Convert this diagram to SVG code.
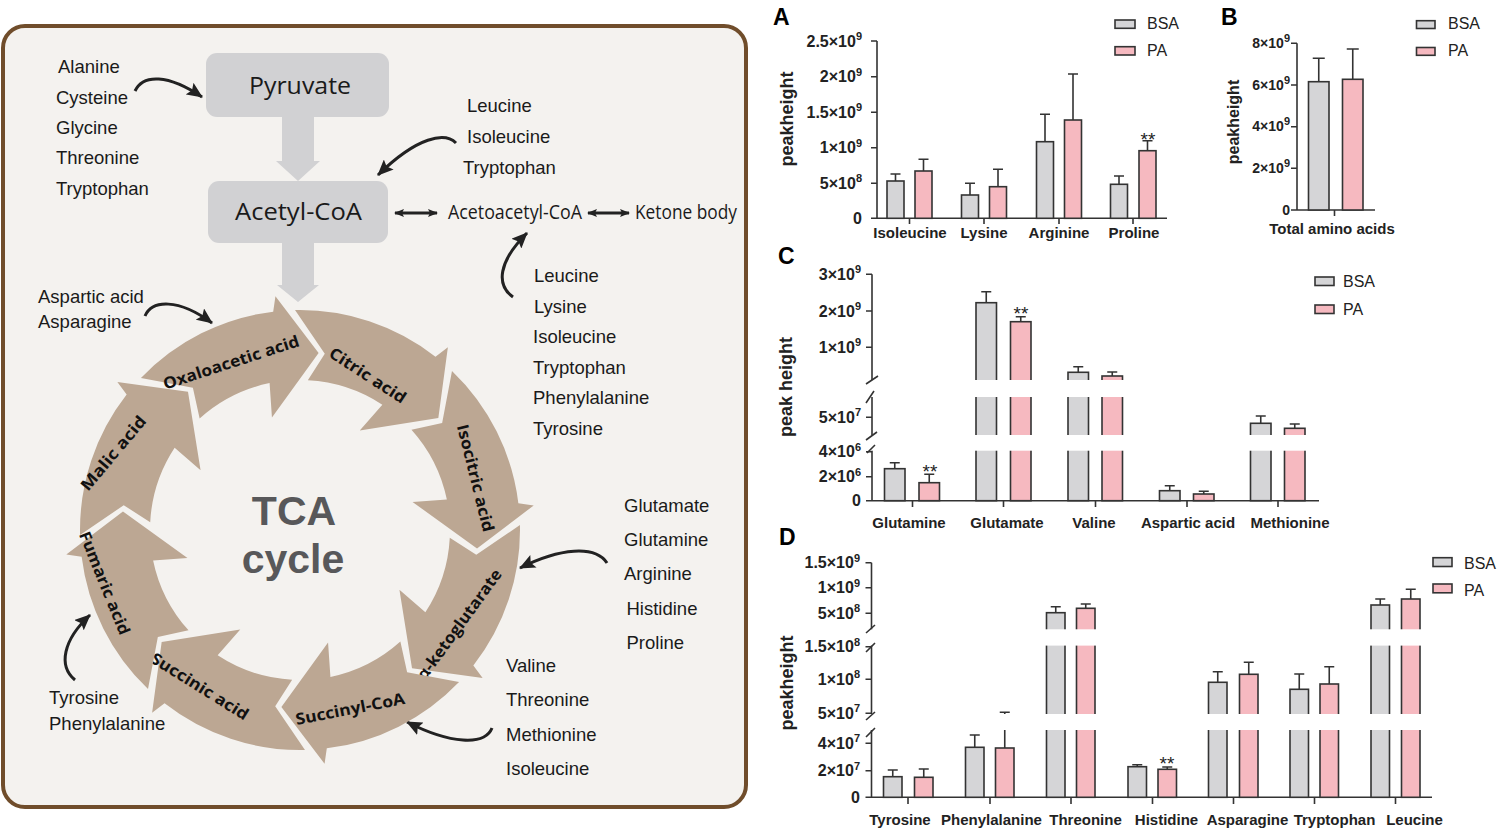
<svg xmlns="http://www.w3.org/2000/svg" width="1497" height="829" viewBox="0 0 1497 829">
<defs>
<style>
.lst{font-family:"Liberation Sans",Arial,sans-serif;font-size:18.5px;fill:#1a1a1a}
.box{fill:#d1d1d3}
.boxt{font-family:"Open Sans","Noto Sans",sans-serif;font-size:23px;fill:#1a1a1a;text-anchor:middle}
.mid{font-family:"Open Sans","Noto Sans",sans-serif;font-size:20px;fill:#1a1a1a}
.tca{fill:#bca793}
.tl{font-family:"Open Sans","Noto Sans",sans-serif;font-weight:700;font-size:16px;fill:#111;text-anchor:middle;dominant-baseline:central}
.big{font-family:"Liberation Sans",Arial,sans-serif;font-weight:700;font-size:41px;fill:#58585a;text-anchor:middle}
.cv{fill:none;stroke:#222;stroke-width:3}
.gar{fill:#d1d1d3}
.ax{stroke:#333;stroke-width:1.6;fill:none}
.bg{fill:#d5d5d7;stroke:#333;stroke-width:1.6}
.bp{fill:#f6b9c0;stroke:#333;stroke-width:1.6}
.eb{stroke:#333;stroke-width:1.6;fill:none}
.tk{font-family:"Liberation Sans",Arial,sans-serif;font-weight:700;font-size:16px;fill:#222;text-anchor:end}
.tkb{font-family:"Liberation Sans",Arial,sans-serif;font-weight:700;font-size:14px;fill:#222;text-anchor:end}
.sup{font-size:11px}
.cat{font-family:"Liberation Sans",Arial,sans-serif;font-weight:700;font-size:15px;fill:#222;text-anchor:middle}
.yt{font-family:"Liberation Sans",Arial,sans-serif;font-weight:700;font-size:18px;fill:#222;text-anchor:middle;dominant-baseline:central}
.lg{font-family:"Liberation Sans",Arial,sans-serif;font-size:16px;fill:#222}
.pl{font-family:"Liberation Sans",Arial,sans-serif;font-weight:700;font-size:23px;fill:#000}
.st{font-family:"Liberation Sans",Arial,sans-serif;font-size:19px;fill:#222;text-anchor:middle}
.gap{fill:#fff}
</style>
<marker id="ah" viewBox="0 0 16 14" markerWidth="16" markerHeight="14" refX="15" refY="7" orient="auto" markerUnits="userSpaceOnUse"><path d="M0,0 L16,7 L0,14 L3,7 Z" fill="#222"/></marker>
<marker id="ad" viewBox="0 0 10 8" markerWidth="10" markerHeight="8" refX="9" refY="4" orient="auto-start-reverse" markerUnits="userSpaceOnUse"><path d="M0,0 L10,4 L0,8 L2,4 Z" fill="#222"/></marker>
</defs>
<rect width="1497" height="829" fill="#fff"/>

<g id="tca-panel">
<rect x="3" y="26" width="743" height="781" rx="22" fill="#f4f2ef" stroke="#704d2b" stroke-width="4"/>

<g id="connectors">
<polygon class="gar" points="282,117 314,117 314,161 320,161 298,181 276,161 282,161"/>
<polygon class="gar" points="282,243 314,243 314,285 319,285 298,302 277,285 282,285"/>
<path class="cv" marker-end="url(#ah)" d="M135,91 C143,74 168,74 202,97"/>
<path class="cv" marker-end="url(#ah)" d="M456,143 C445,132 418,136 378,175"/>
<path class="cv" marker-end="url(#ah)" d="M513,297 C496,285 498,262 527,233"/>
<path class="cv" marker-end="url(#ah)" d="M145,316 C152,300 178,298 212,323"/>
<path class="cv" marker-end="url(#ah)" d="M607,563 C595,545 560,548 520,568"/>
<path class="cv" marker-end="url(#ah)" d="M492,728 C485,746 450,744 407,722"/>
<path class="cv" marker-end="url(#ah)" d="M75,680 C58,666 63,640 90,615"/>
<path class="cv" stroke-width="2.5" marker-start="url(#ad)" marker-end="url(#ad)" d="M395,213 H437"/>
<path class="cv" stroke-width="2.5" marker-start="url(#ad)" marker-end="url(#ad)" d="M588,213 H629"/>
</g>

<g id="pyruvate"><rect x="206" y="53" width="183" height="64" rx="11" class="box"/><text class="boxt" x="300" y="94" textLength="102" lengthAdjust="spacingAndGlyphs">Pyruvate</text></g>
<g id="acetyl-coa"><rect x="208" y="181" width="180" height="62" rx="11" class="box"/><text class="boxt" x="298.5" y="220" textLength="127" lengthAdjust="spacingAndGlyphs">Acetyl-CoA</text></g>
<g id="acetoacetyl-coa"><text class="mid" x="448" y="218.5" textLength="134" lengthAdjust="spacingAndGlyphs">Acetoacetyl-CoA</text></g>
<g id="ketone-body"><text class="mid" x="635" y="218.5" textLength="102" lengthAdjust="spacingAndGlyphs">Ketone body</text></g>

<g id="aa-pyruvate">
<text class="lst" x="58" y="73">Alanine</text>
<text class="lst" x="56" y="103.5">Cysteine</text>
<text class="lst" x="56" y="134">Glycine</text>
<text class="lst" x="56" y="164">Threonine</text>
<text class="lst" x="56" y="195">Tryptophan</text>
</g>
<g id="aa-acetylcoa">
<text class="lst" x="467" y="112">Leucine</text>
<text class="lst" x="467" y="143">Isoleucine</text>
<text class="lst" x="463" y="174">Tryptophan</text>
</g>
<g id="aa-acetoacetyl">
<text class="lst" x="534" y="282">Leucine</text>
<text class="lst" x="534" y="312.5">Lysine</text>
<text class="lst" x="533" y="343">Isoleucine</text>
<text class="lst" x="533" y="373.5">Tryptophan</text>
<text class="lst" x="533" y="404">Phenylalanine</text>
<text class="lst" x="533" y="434.5">Tyrosine</text>
</g>
<g id="aa-oxaloacetic">
<text class="lst" x="38" y="303">Aspartic acid</text>
<text class="lst" x="38" y="328">Asparagine</text>
</g>
<g id="aa-ketoglutarate">
<text class="lst" x="624" y="511.5">Glutamate</text>
<text class="lst" x="624" y="546">Glutamine</text>
<text class="lst" x="624" y="580">Arginine</text>
<text class="lst" x="626.5" y="614.5">Histidine</text>
<text class="lst" x="626.5" y="649">Proline</text>
</g>
<g id="aa-succinyl">
<text class="lst" x="506" y="671.5">Valine</text>
<text class="lst" x="506" y="706">Threonine</text>
<text class="lst" x="506" y="740.5">Methionine</text>
<text class="lst" x="506" y="775">Isoleucine</text>
</g>
<g id="aa-fumaric">
<text class="lst" x="49" y="704">Tyrosine</text>
<text class="lst" x="49" y="730">Phenylalanine</text>
</g>

<g id="oxaloacetic-acid"><path class="tca" d="M140.95,378.01 A220,220 0 0,1 273.19,311.64 L275.44,296.29 L318.61,352.98 L271.94,417.45 L269.58,383.12 A150,150 0 0,0 199.63,418.53 L192.88,387.84 Z"/><text class="tl" transform="translate(231,362) rotate(-18)" textLength="142" lengthAdjust="spacingAndGlyphs">Oxaloacetic acid</text></g>
<g id="citric-acid"><path class="tca" d="M295.01,310.06 A220,220 0 0,1 435.45,356.64 L447.89,347.37 L438.33,417.99 L359.74,430.57 L382.35,404.63 A150,150 0 0,0 307.85,380.21 L324.78,353.73 Z"/><text class="tl" transform="translate(368,375) rotate(33)" textLength="88" lengthAdjust="spacingAndGlyphs">Citric acid</text></g>
<g id="isocitric-acid"><path class="tca" d="M451.99,370.95 A220,220 0 0,1 518.36,503.19 L533.71,505.44 L477.02,548.61 L412.55,501.94 L446.88,499.58 A150,150 0 0,0 411.47,429.63 L442.16,422.88 Z"/><text class="tl" transform="translate(476,478) rotate(76)" textLength="110" lengthAdjust="spacingAndGlyphs">Isocitric acid</text></g>
<g id="a-ketoglutarate"><path class="tca" d="M519.94,525.01 A220,220 0 0,1 473.36,665.45 L482.63,677.89 L412.01,668.33 L399.43,589.74 L425.37,612.35 A150,150 0 0,0 449.79,537.85 L476.27,554.78 Z"/><text class="tl" transform="translate(459,624) rotate(-54)" textLength="132" lengthAdjust="spacingAndGlyphs">α-ketoglutarate</text></g>
<g id="succinyl-coa"><path class="tca" d="M459.05,681.99 A220,220 0 0,1 326.81,748.36 L324.56,763.71 L281.39,707.02 L328.06,642.55 L330.42,676.88 A150,150 0 0,0 400.37,641.47 L407.12,672.16 Z"/><text class="tl" transform="translate(350,708.5) rotate(-11)" textLength="111" lengthAdjust="spacingAndGlyphs">Succinyl-CoA</text></g>
<g id="succinic-acid"><path class="tca" d="M304.99,749.94 A220,220 0 0,1 164.55,703.36 L152.11,712.63 L161.67,642.01 L240.26,629.43 L217.65,655.37 A150,150 0 0,0 292.15,679.79 L275.22,706.27 Z"/><text class="tl" transform="translate(200,686) rotate(32)" textLength="112" lengthAdjust="spacingAndGlyphs">Succinic acid</text></g>
<g id="fumaric-acid"><path class="tca" d="M148.01,689.05 A220,220 0 0,1 81.64,556.81 L66.29,554.56 L122.98,511.39 L187.45,558.06 L153.12,560.42 A150,150 0 0,0 188.53,630.37 L157.84,637.12 Z"/><text class="tl" transform="translate(105,583) rotate(68)" textLength="110" lengthAdjust="spacingAndGlyphs">Fumaric acid</text></g>
<g id="malic-acid"><path class="tca" d="M80.06,534.99 A220,220 0 0,1 126.64,394.55 L117.37,382.11 L187.99,391.67 L200.57,470.26 L174.63,447.65 A150,150 0 0,0 150.21,522.15 L123.73,505.22 Z"/><text class="tl" transform="translate(113,453) rotate(-50)" textLength="92" lengthAdjust="spacingAndGlyphs">Malic acid</text></g>
<g id="tca-title"><text class="big" x="294" y="525">TCA</text><text class="big" x="293" y="573">cycle</text></g>
</g>

<g id="chart-a">
<text class="pl" x="773" y="25">A</text>
<path class="ax" d="M877,41 V218.3 H1167 M871,41 H877 M871,76.7 H877 M871,112.3 H877 M871,147.7 H877 M871,183.3 H877 M871,218.3 H877 M909.5,218.3 V224 M984,218.3 V224 M1059,218.3 V224 M1133,218.3 V224"/>
<text class="tk" x="862" y="46.5">2.5×10<tspan class="sup" dy="-6.5">9</tspan></text>
<text class="tk" x="862" y="82.2">2×10<tspan class="sup" dy="-6.5">9</tspan></text>
<text class="tk" x="862" y="117.8">1.5×10<tspan class="sup" dy="-6.5">9</tspan></text>
<text class="tk" x="862" y="153.2">1×10<tspan class="sup" dy="-6.5">9</tspan></text>
<text class="tk" x="862" y="188.8">5×10<tspan class="sup" dy="-6.5">8</tspan></text>
<text class="tk" x="862" y="223.8">0</text>
<text class="yt" transform="translate(787,119) rotate(-90)">peakheight</text>
<rect class="bg" x="887" y="181" width="17" height="37.3"/><path class="eb" d="M895.5,181 V174 M890.5,174 H900.5"/>
<rect class="bp" x="915" y="171" width="17" height="47.3"/><path class="eb" d="M923.5,171 V159.3 M918.5,159.3 H928.5"/>
<rect class="bg" x="961.5" y="195" width="17" height="23.3"/><path class="eb" d="M970,195 V183.3 M965,183.3 H975"/>
<rect class="bp" x="989.5" y="186.7" width="17" height="31.6"/><path class="eb" d="M998,186.7 V169.3 M993,169.3 H1003"/>
<rect class="bg" x="1036.5" y="141.7" width="17" height="76.6"/><path class="eb" d="M1045,141.7 V114.3 M1040,114.3 H1050"/>
<rect class="bp" x="1064.5" y="120" width="17" height="98.3"/><path class="eb" d="M1073,120 V74 M1068,74 H1078"/>
<rect class="bg" x="1110.5" y="184.3" width="17" height="34"/><path class="eb" d="M1119,184.3 V176 M1114,176 H1124"/>
<rect class="bp" x="1139" y="150.7" width="17" height="67.6"/><path class="eb" d="M1147.5,150.7 V140.7 M1142.5,140.7 H1152.5"/>
<text class="st" x="1148" y="146">**</text>
<text class="cat" x="910" y="237.5">Isoleucine</text>
<text class="cat" x="984" y="237.5">Lysine</text>
<text class="cat" x="1059" y="237.5">Arginine</text>
<text class="cat" x="1134" y="237.5">Proline</text>
<rect class="bg" x="1115" y="20" width="20" height="8.3"/><text class="lg" x="1147" y="29.3">BSA</text>
<rect class="bp" x="1115" y="46.7" width="20" height="8.3"/><text class="lg" x="1147" y="55.5">PA</text>
</g>

<g id="chart-b">
<text class="pl" x="1221" y="25">B</text>
<path class="ax" d="M1297,43.3 V210 H1375 M1291,43.3 H1297 M1291,85 H1297 M1291,126.7 H1297 M1291,168.3 H1297 M1291,210 H1297 M1334.5,210 V216"/>
<text class="tkb" x="1290" y="48">8×10<tspan class="sup" dy="-6">9</tspan></text>
<text class="tkb" x="1290" y="89.7">6×10<tspan class="sup" dy="-6">9</tspan></text>
<text class="tkb" x="1290" y="131.4">4×10<tspan class="sup" dy="-6">9</tspan></text>
<text class="tkb" x="1290" y="173">2×10<tspan class="sup" dy="-6">9</tspan></text>
<text class="tkb" x="1290" y="214.7">0</text>
<text class="yt" transform="translate(1233,122) rotate(-90)" style="font-size:16px">peakheight</text>
<rect class="bg" x="1308.5" y="81.7" width="20.5" height="128.3"/><path class="eb" d="M1318.75,81.7 V58.3 M1312.75,58.3 H1324.75"/>
<rect class="bp" x="1342.5" y="79.3" width="20.5" height="130.7"/><path class="eb" d="M1352.75,79.3 V49 M1346.75,49 H1358.75"/>
<text class="cat" x="1332" y="233.5">Total amino acids</text>
<rect class="bg" x="1416.5" y="20.7" width="18.5" height="7.8"/><text class="lg" x="1448" y="29.3">BSA</text>
<rect class="bp" x="1416.5" y="47.5" width="18.5" height="7.8"/><text class="lg" x="1448" y="56">PA</text>
</g>

<g id="chart-c">
<text class="pl" x="778" y="264">C</text>
<path class="ax" d="M872,274.3 V500.7 H1319 M866,274.3 H872 M866,311 H872 M866,347.3 H872 M866,417.3 H872 M866,451.7 H872 M866,476.7 H872 M866,500.7 H872 M912.5,500.7 V507 M1003.5,500.7 V507 M1095.5,500.7 V507 M1187,500.7 V507 M1278,500.7 V507"/>
<text class="tk" x="861" y="279.8">3×10<tspan class="sup" dy="-6.5">9</tspan></text>
<text class="tk" x="861" y="316.5">2×10<tspan class="sup" dy="-6.5">9</tspan></text>
<text class="tk" x="861" y="352.8">1×10<tspan class="sup" dy="-6.5">9</tspan></text>
<text class="tk" x="861" y="422.8">5×10<tspan class="sup" dy="-6.5">7</tspan></text>
<text class="tk" x="861" y="457.2">4×10<tspan class="sup" dy="-6.5">6</tspan></text>
<text class="tk" x="861" y="482.2">2×10<tspan class="sup" dy="-6.5">6</tspan></text>
<text class="tk" x="861" y="506.2">0</text>
<text class="yt" transform="translate(786,387) rotate(-90)">peak height</text>
<rect class="bg" x="884.5" y="468.7" width="20.5" height="32"/><path class="eb" d="M894.75,468.7 V462.7 M889.75,462.7 H899.75"/>
<rect class="bp" x="919" y="482.7" width="20.5" height="18"/><path class="eb" d="M929.25,482.7 V474.3 M924.25,474.3 H934.25"/>
<rect class="bg" x="976" y="302.7" width="20.5" height="198"/><path class="eb" d="M986.25,302.7 V291.7 M981.25,291.7 H991.25"/>
<rect class="bp" x="1010.5" y="321.7" width="20.5" height="179"/><path class="eb" d="M1020.75,321.7 V316.7 M1015.75,316.7 H1025.75"/>
<rect class="bg" x="1068" y="372.3" width="20.5" height="128.4"/><path class="eb" d="M1078.25,372.3 V366.7 M1073.25,366.7 H1083.25"/>
<rect class="bp" x="1102" y="376" width="20.5" height="124.7"/><path class="eb" d="M1112.25,376 V372 M1107.25,372 H1117.25"/>
<rect class="bg" x="1159.5" y="490.7" width="20.5" height="10"/><path class="eb" d="M1169.75,490.7 V485.7 M1164.75,485.7 H1174.75"/>
<rect class="bp" x="1193.5" y="494" width="20.5" height="6.7"/><path class="eb" d="M1203.75,494 V491.3 M1198.75,491.3 H1208.75"/>
<rect class="bg" x="1250.5" y="423.3" width="20.5" height="77.4"/><path class="eb" d="M1260.75,423.3 V416 M1255.75,416 H1265.75"/>
<rect class="bp" x="1284.5" y="428.3" width="20.5" height="72.4"/><path class="eb" d="M1294.75,428.3 V424 M1289.75,424 H1299.75"/>
<rect class="gap" x="864" y="380" width="457" height="17"/>
<rect class="gap" x="864" y="435" width="457" height="15.7"/>
<path class="ax" d="M866,384 L878,376 M866,403 L874,391 M866,440 L877,432 M867,453 L875,445"/>
<text class="st" x="930" y="477.5">**</text>
<text class="st" x="1021" y="320">**</text>
<text class="cat" x="909" y="528">Glutamine</text>
<text class="cat" x="1007" y="528">Glutamate</text>
<text class="cat" x="1094" y="528">Valine</text>
<text class="cat" x="1188" y="528">Aspartic acid</text>
<text class="cat" x="1290" y="528">Methionine</text>
<rect class="bg" x="1315" y="277" width="19" height="8.5"/><text class="lg" x="1343" y="287">BSA</text>
<rect class="bp" x="1315" y="305" width="19" height="8.5"/><text class="lg" x="1343" y="315">PA</text>
</g>

<g id="chart-d">
<text class="pl" x="779" y="545">D</text>
<path class="ax" d="M871.5,562.7 V797.3 H1432 M865.5,562.7 H871.5 M865.5,587.7 H871.5 M865.5,613.3 H871.5 M865.5,646.7 H871.5 M865.5,679.3 H871.5 M865.5,713.3 H871.5 M865.5,743.3 H871.5 M865.5,770.7 H871.5 M865.5,797.3 H871.5 M908,797.3 V804 M990,797.3 V804 M1071,797.3 V804 M1152.5,797.3 V804 M1233.5,797.3 V804 M1314.5,797.3 V804 M1395.5,797.3 V804"/>
<text class="tk" x="860" y="568.2">1.5×10<tspan class="sup" dy="-6.5">9</tspan></text>
<text class="tk" x="860" y="593.2">1×10<tspan class="sup" dy="-6.5">9</tspan></text>
<text class="tk" x="860" y="618.8">5×10<tspan class="sup" dy="-6.5">8</tspan></text>
<text class="tk" x="860" y="652.2">1.5×10<tspan class="sup" dy="-6.5">8</tspan></text>
<text class="tk" x="860" y="684.8">1×10<tspan class="sup" dy="-6.5">8</tspan></text>
<text class="tk" x="860" y="718.8">5×10<tspan class="sup" dy="-6.5">7</tspan></text>
<text class="tk" x="860" y="748.8">4×10<tspan class="sup" dy="-6.5">7</tspan></text>
<text class="tk" x="860" y="776.2">2×10<tspan class="sup" dy="-6.5">7</tspan></text>
<text class="tk" x="860" y="802.8">0</text>
<text class="yt" transform="translate(787,683) rotate(-90)">peakheight</text>
<rect class="bg" x="883.5" y="776.7" width="18.5" height="20.6"/><path class="eb" d="M892.75,776.7 V770 M887.75,770 H897.75"/>
<rect class="bp" x="914.5" y="777.3" width="18.5" height="20"/><path class="eb" d="M923.75,777.3 V769 M918.75,769 H928.75"/>
<rect class="bg" x="965.5" y="747.3" width="18.5" height="50"/><path class="eb" d="M974.75,747.3 V735 M969.75,735 H979.75"/>
<rect class="bp" x="995.5" y="748" width="18.5" height="49.3"/><path class="eb" d="M1004.75,748 V712.3 M999.75,712.3 H1009.75"/>
<rect class="bg" x="1046.5" y="612.7" width="18.5" height="184.6"/><path class="eb" d="M1055.75,612.7 V606.7 M1050.75,606.7 H1060.75"/>
<rect class="bp" x="1076.5" y="608.3" width="18.5" height="189"/><path class="eb" d="M1085.75,608.3 V604 M1080.75,604 H1090.75"/>
<rect class="bg" x="1128" y="766.7" width="18.5" height="30.6"/><path class="eb" d="M1137.25,766.7 V764.7 M1132.25,764.7 H1142.25"/>
<rect class="bp" x="1158" y="769.3" width="18.5" height="28"/><path class="eb" d="M1167.25,769.3 V767 M1162.25,767 H1172.25"/>
<rect class="bg" x="1208.5" y="682.3" width="18.5" height="115"/><path class="eb" d="M1217.75,682.3 V671.7 M1212.75,671.7 H1222.75"/>
<rect class="bp" x="1239.5" y="674.3" width="18.5" height="123"/><path class="eb" d="M1248.75,674.3 V662.3 M1243.75,662.3 H1253.75"/>
<rect class="bg" x="1290" y="689.3" width="18.5" height="108"/><path class="eb" d="M1299.25,689.3 V674 M1294.25,674 H1304.25"/>
<rect class="bp" x="1320" y="684" width="18.5" height="113.3"/><path class="eb" d="M1329.25,684 V666.7 M1324.25,666.7 H1334.25"/>
<rect class="bg" x="1371" y="605" width="18.5" height="192.3"/><path class="eb" d="M1380.25,605 V599 M1375.25,599 H1385.25"/>
<rect class="bp" x="1401.5" y="599" width="18.5" height="198.3"/><path class="eb" d="M1410.75,599 V589.3 M1405.75,589.3 H1415.75"/>
<rect class="gap" x="864" y="629.3" width="570" height="16.3"/>
<rect class="gap" x="864" y="714" width="570" height="16"/>
<path class="ax" d="M866,633 L875,625 M866,652 L875,643 M866,720 L875,712 M866,737 L875,728"/>
<text class="st" x="1167" y="770">**</text>
<text class="cat" x="900" y="825">Tyrosine</text>
<text class="cat" x="991.5" y="825">Phenylalanine</text>
<text class="cat" x="1085.5" y="825">Threonine</text>
<text class="cat" x="1166.5" y="825">Histidine</text>
<text class="cat" x="1247.5" y="825">Asparagine</text>
<text class="cat" x="1334.5" y="825">Tryptophan</text>
<text class="cat" x="1414.5" y="825">Leucine</text>
<rect class="bg" x="1433" y="557.7" width="19" height="8.8"/><text class="lg" x="1464" y="569">BSA</text>
<rect class="bp" x="1433" y="584" width="19" height="8.8"/><text class="lg" x="1464" y="595.5">PA</text>
</g>
</svg>
